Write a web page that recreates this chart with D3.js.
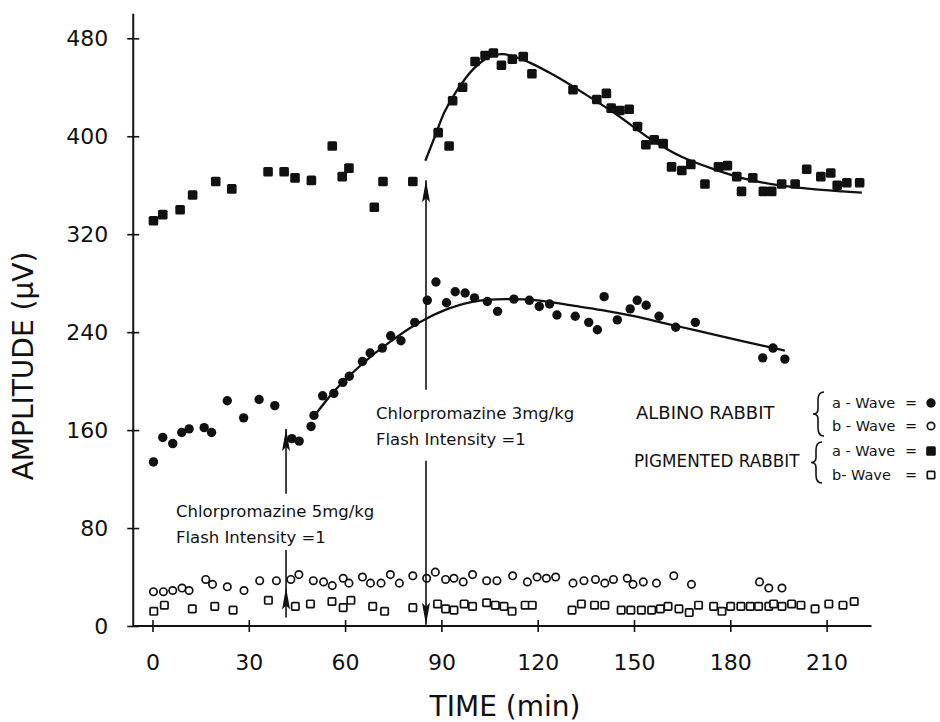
<!DOCTYPE html>
<head>
  <meta charset="utf-8">
  <script src="https://d3js.org/d3.v7.min.js"></script>
  <style>
    body { margin:0; background:#fff; }
    text { font-family: "DejaVu Sans", sans-serif; fill:#111; }
  </style>
</head>
<body>
<script>
var width = 940, height = 722;

// tick values
var xTicks = [0, 30, 60, 90, 120, 150, 180, 210];
var yTicks = [0, 80, 160, 240, 320, 400, 480];

// albino rabbit a-wave (filled circles) [min, uV]
var albinoA = [[0.3,134],[3.2,154],[6.3,149],[9.1,158],[11.4,161],[16.1,162],[18.4,158],
  [23.3,184],[28.4,170],[33.2,185],[38.1,180],[43.4,153],[45.7,151],[49.4,163],[50.3,172],
  [53,188],[56.5,190],[59.3,199],[61.3,204],[65.4,216],[67.8,223],[71.6,227],[74.2,237],
  [77.4,233],[81.7,248],[85.6,266],[88.3,281],[91.6,264],[94.3,273],[97.4,272],[100.3,268],
  [104.3,265],[107.5,257],[112.6,267],[117.4,266],[120.5,261],[123.7,263],[126,254],
  [131.7,253],[135.9,248],[138.6,242],[140.7,269],[144.8,250],[148.8,259],[151,266],
  [153.8,262],[157.8,253],[163,244],[169.1,248],[190.1,219],[193.3,227],[197,218]];

// albino rabbit b-wave (open circles)
var albinoB = [[0.3,28],[3.4,28],[6.3,29],[9.2,31],[11.4,29],[16.6,38],[18.7,34],[23.3,32],
  [28.5,29],[33.4,37],[38.6,37],[43.1,38],[45.6,42],[50.1,37],[53.3,36],[56,33],[59.4,39],
  [61.2,35],[65.4,40],[67.9,35],[71.2,35],[74.1,42],[76.9,35],[81.1,41],[85.4,39],[88.1,44],
  [91.3,38],[93.9,39],[96.8,36],[99.7,42],[104.1,37],[107.3,37],[112.2,41],[116.8,36],
  [119.8,40],[122.7,39],[125.6,40],[131,35],[134.4,37],[138,38],[140.9,35],[143.6,38],
  [147.9,39],[149.7,34],[152.9,36],[157,35],[162.4,41],[167.9,34],[189.1,36],[192,31],[196.1,31]];

// pigmented rabbit a-wave (filled squares)
var pigmentedA = [[0.3,331],[3.2,336],[8.6,340],[12.5,352],[19.7,363],[24.7,357],[36,371],
  [41,371],[44.4,366],[49.5,364],[56,392],[59.1,367],[61.2,374],[69.1,342],[71.8,363],
  [81.1,363],[89,403],[92.4,392],[93.5,429],[96.6,440],[100.5,461],[103.6,466],[106.2,468],
  [108.7,458],[112.1,463],[115.5,465],[118.2,451],[131,438],[138.4,430],[141.4,435],
  [142.9,423],[145.6,421],[148.5,422],[151.1,408],[153.7,393],[156.3,397],[159.1,394],
  [161.7,375],[164.9,372],[167.7,377],[172.1,361],[176.3,375],[179.1,376],[182,367],
  [183.5,355],[187,366],[190.3,355],[192.9,355],[196,361],[200.2,361],[203.8,373],
  [208.2,367],[211.3,370],[213.3,360],[216.3,362],[220.3,362]];

// pigmented rabbit b-wave (open squares)
var pigmentedB = [[0.4,12],[3.7,17],[12.4,14],[19.4,16],[25.1,13],[36.1,21],[44.5,16],
  [49.2,18],[55.9,20],[59.4,15],[61.8,21],[68.6,16],[72.3,12],[81.1,15],[88.8,18],[91.3,14],
  [93.9,13],[97.1,18],[99.7,16],[104.1,19],[106.8,17],[109.5,16],[112,12],[116.1,17],
  [118.3,17],[130.7,13],[133.6,18],[137.7,17],[140.9,17],[146,13],[149,13],[152.3,13],
  [155.5,13],[158.2,14],[160.6,16],[164,14],[167.2,11],[170.1,17],[174.8,16],[177.4,12],
  [180.1,16],[183.3,16],[186.2,16],[188.8,16],[192,16],[193.5,18],[196.1,16],[199.1,18],
  [202,17],[206.4,14],[210.7,18],[215.1,17],[218.6,20]];

// fitted curves
var albinoFit = [[50,170],[56,190],[62,206],[68,220],[74,232],[80,243],[86,252],[92,259],
  [100,265],[110,267],[120,266],[130,262],[140,258],[150,253],[160,247],[170,241],
  [180,235],[190,229],[197,225]];
var pigmentedFit = [[85,380],[88,400],[91,420],[95,438],[100,455],[105,465],[109,467],
  [115,463],[125,450],[135,434],[145,417],[155,398],[165,383],[175,373],[185,365],
  [195,360],[205,357],[215,355],[221,354]];

var svg = d3.select("body").append("svg")
  .attr("width", width).attr("height", height);

var x = d3.scaleLinear().domain([0, 210]).range([152.5, 826.6]);
var y = d3.scaleLinear().domain([0, 480]).range([626, 38.3]);

// axes
var xAxis = svg.append("g").attr("transform", "translate(0," + y(0) + ")")
  .call(d3.axisBottom(x).tickValues(xTicks).tickSize(6).tickPadding(22));
var yAxis = svg.append("g").attr("transform", "translate(" + x(-6) + ",0)")
  .call(d3.axisLeft(y).tickValues(yTicks).tickSize(6).tickPadding(19));

xAxis.select(".domain").remove();
yAxis.select(".domain").remove();
xAxis.selectAll(".tick line").attr("y1", -6).attr("y2", 6).attr("stroke", "#111").attr("stroke-width", 1.6);
yAxis.selectAll(".tick line").attr("x1", -6).attr("x2", 6).attr("stroke", "#111").attr("stroke-width", 1.6);
svg.selectAll(".tick text").style("font-size", "22px").attr("fill", "#111")
  .style("font-family", "'DejaVu Sans', sans-serif");
xAxis.selectAll(".tick text").attr("dy", "0.71em");

svg.append("line").attr("x1", x(-6)).attr("x2", x(224)).attr("y1", y(0)).attr("y2", y(0))
  .attr("stroke", "#111").attr("stroke-width", 2);
svg.append("line").attr("x1", x(-6)).attr("x2", x(-6)).attr("y1", y(0)).attr("y2", y(500))
  .attr("stroke", "#111").attr("stroke-width", 2);

svg.append("text").attr("transform", "translate(33," + 366 + ") rotate(-90)")
  .attr("text-anchor", "middle").style("font-size", "28px").text("AMPLITUDE (\u03bcV)");
svg.append("text").attr("x", 505).attr("y", 716)
  .attr("text-anchor", "middle").style("font-size", "28px").text("TIME (min)");

// fitted curves
var line = d3.line().x(function(d) { return x(d[0]); }).y(function(d) { return y(d[1]); })
  .curve(d3.curveCatmullRom);
[albinoFit, pigmentedFit].forEach(function(f) {
  svg.append("path").attr("d", line(f)).attr("fill", "none")
    .attr("stroke", "#111").attr("stroke-width", 2.3);
});

// markers
function filledCircle(g, cx, cy) {
  g.append("circle").attr("cx", cx).attr("cy", cy).attr("r", 4.7).attr("fill", "#111");
}
function openCircle(g, cx, cy) {
  g.append("circle").attr("cx", cx).attr("cy", cy).attr("r", 3.7)
    .attr("fill", "#fff").attr("stroke", "#111").attr("stroke-width", 1.7);
}
function filledSquare(g, cx, cy) {
  g.append("rect").attr("x", cx - 4.8).attr("y", cy - 4.8).attr("width", 9.6).attr("height", 9.6)
    .attr("rx", 1.5).attr("fill", "#111");
}
function openSquare(g, cx, cy) {
  g.append("rect").attr("x", cx - 3.7).attr("y", cy - 3.7).attr("width", 7.4).attr("height", 7.4)
    .attr("rx", 1).attr("fill", "#fff").attr("stroke", "#111").attr("stroke-width", 1.7);
}

var pts = svg.append("g");
albinoB.forEach(function(d) { openCircle(pts, x(d[0]), y(d[1])); });
pigmentedB.forEach(function(d) { openSquare(pts, x(d[0]), y(d[1])); });
albinoA.forEach(function(d) { filledCircle(pts, x(d[0]), y(d[1])); });
pigmentedA.forEach(function(d) { filledSquare(pts, x(d[0]), y(d[1])); });

// arrows for drug injections
function vline(t, v1, v2) {
  svg.append("line").attr("x1", x(t)).attr("x2", x(t)).attr("y1", y(v1)).attr("y2", y(v2))
    .attr("stroke", "#111").attr("stroke-width", 1.6);
}
function arrowHead(t, v, dir) { // dir -1 = up, 1 = down
  var px = x(t), py = y(v);
  svg.append("path")
    .attr("d", "M" + px + "," + py + "L" + (px - 4) + "," + (py - dir * 22) +
      "L" + px + "," + (py - dir * 18) + "L" + (px + 4) + "," + (py - dir * 22) + "Z")
    .attr("fill", "#111");
}
vline(41.6, 161, 108); arrowHead(41.6, 161, -1);
vline(41.6, 62, 7); arrowHead(41.6, 31.5, -1);
vline(85.2, 364, 193); arrowHead(85.2, 364, -1);
vline(85.2, 135, 1); arrowHead(85.2, 1, 1);

function note(px, py, lines) {
  lines.forEach(function(s, i) {
    svg.append("text").attr("x", px).attr("y", py + i * 26).style("font-size", "16.5px").text(s);
  });
}
note(376, 419, ["Chlorpromazine  3mg/kg", "Flash Intensity =1"]);
note(176, 517, ["Chlorpromazine  5mg/kg", "Flash Intensity =1"]);

// legend
function brace(px, y0, y1) {
  var m = (y0 + y1) / 2;
  svg.append("path")
    .attr("d", "M" + (px + 6) + "," + y0 + "Q" + px + "," + y0 + " " + px + "," + (y0 + 8) +
      "L" + px + "," + (m - 5) + "Q" + px + "," + m + " " + (px - 5) + "," + m +
      "Q" + px + "," + m + " " + px + "," + (m + 5) +
      "L" + px + "," + (y1 - 8) + "Q" + px + "," + y1 + " " + (px + 6) + "," + y1)
    .attr("fill", "none").attr("stroke", "#111").attr("stroke-width", 1.6);
}
svg.append("text").attr("x", 636).attr("y", 419).style("font-size", "18px").text("ALBINO RABBIT");
svg.append("text").attr("x", 634).attr("y", 467).style("font-size", "16.8px").text("PIGMENTED RABBIT");
brace(818, 392, 436);
brace(816, 442, 483);
var legendRows = [["a - Wave", 408, filledCircle], ["b - Wave", 431, openCircle],
  ["a - Wave", 456, filledSquare], ["b- Wave", 480, openSquare]];
legendRows.forEach(function(r) {
  svg.append("text").attr("x", 832).attr("y", r[1]).style("font-size", "14.5px").text(r[0]);
  svg.append("text").attr("x", 905).attr("y", r[1]).style("font-size", "14.5px").text("=");
  r[2](svg, 931, r[1] - 5);
});
</script>
</body>
